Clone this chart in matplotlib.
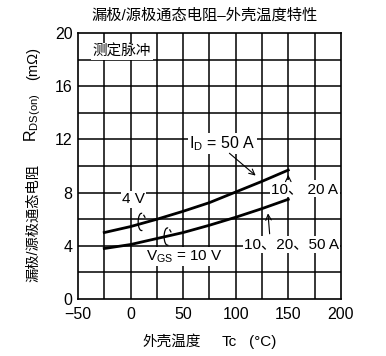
import matplotlib
matplotlib.use('Agg')
import matplotlib.pyplot as plt
from matplotlib.patches import Arc
import numpy as np

plt.rcParams['font.family'] = ['Liberation Sans', 'Noto Sans CJK SC', 'DejaVu Sans']
plt.rcParams['mathtext.fontset'] = 'custom'
plt.rcParams['mathtext.rm'] = 'Liberation Sans'
plt.rcParams['mathtext.it'] = 'Liberation Sans'
plt.rcParams['axes.unicode_minus'] = True

# case temperature (°C)
temp = [-25, 0, 25, 50, 75, 100, 125, 150]
# R_DS(on) (mΩ)
r_4v = [5.0, 5.45, 6.0, 6.6, 7.25, 8.05, 8.85, 9.7]
r_10v = [3.8, 4.1, 4.55, 5.0, 5.55, 6.15, 6.8, 7.5]

x_ticks = [-50, 0, 50, 100, 150, 200]
y_ticks = [0, 4, 8, 12, 16, 20]

fig = plt.figure(figsize=(3.86, 3.56), dpi=100)
ax = fig.add_axes([0.202, 0.160, 0.681, 0.747])

# grid every 25 °C and 2 mΩ
for gx in np.arange(-25, 200, 25):
    ax.axvline(gx, color='black', lw=1.1, zorder=1)
for gy in np.arange(2, 20, 2):
    ax.axhline(gy, color='black', lw=1.1, zorder=1)

ax.plot(temp, r_4v, color='black', lw=2.0, zorder=3)
ax.plot(temp, r_10v, color='black', lw=2.0, zorder=3)

ax.set_xlim(-50, 200)
ax.set_ylim(0, 20)
ax.set_xticks(x_ticks)
ax.set_yticks(y_ticks)
ax.tick_params(length=0, labelsize=11.5)
ax.tick_params(axis='x', pad=6)
ax.tick_params(axis='y', pad=4)
for s in ax.spines.values():
    s.set_linewidth(1.2)

box = dict(facecolor='white', edgecolor='none', pad=1)
ax.text(-36, 18.6, '测定脉冲', fontsize=10.5, va='center', ha='left', bbox=box, zorder=4)
ax.text(56, 11.7, r'I$_\mathrm{D}$ = 50 A', fontsize=11.5, va='center', ha='left', bbox=box, zorder=4)
ax.text(134, 8.3, '10、 20 A', fontsize=11, va='center', ha='left', bbox=box, zorder=4)
ax.text(108, 4.1, '10、20、50 A', fontsize=11, va='center', ha='left', bbox=box, zorder=4)
ax.text(-8, 7.5, '4 V', fontsize=11, va='center', ha='left', bbox=box, zorder=4)
ax.text(15, 3.2, r'V$_\mathrm{GS}$ = 10 V', fontsize=11, va='center', ha='left', bbox=box, zorder=4)

arr = dict(arrowstyle='->', color='black', lw=0.8)
ax.annotate('', xy=(121, 9.15), xytext=(92, 11.1), arrowprops=arr, zorder=5)
ax.annotate('', xy=(150, 9.55), xytext=(150, 8.8), arrowprops=arr, zorder=5)
ax.annotate('', xy=(130.5, 6.65), xytext=(132.5, 4.7), arrowprops=arr, zorder=5)

# small curl marks tying the labels to each curve
for cx, cy in [(10.5, 5.8), (35.2, 4.7)]:
    ax.add_patch(Arc((cx, cy), 6.5, 1.3, theta1=50, theta2=320, color='black', lw=0.9, zorder=5))
    ax.plot([cx + 2.1, cx + 3.2], [cy + 0.5, cy + 0.35], color='black', lw=0.9, zorder=5)

fig.text(0.53, 0.957, '漏极/源极通态电阻–外壳温度特性', fontsize=11, ha='center', va='center')

# y label in three pieces
fig.text(0.085, 1 - 223 / 356, '漏极/源极通态电阻', fontsize=10.3, rotation=90, ha='center', va='center')
fig.text(0.085, 1 - 118 / 356, r'R$_\mathrm{DS(on)}$', fontsize=11.5, rotation=90, ha='center', va='center')
fig.text(0.085, 1 - 63 / 356, '(mΩ)', fontsize=10.5, rotation=90, ha='center', va='center')

# x label in three pieces
fig.text(172 / 386, 1 - 342 / 356, '外壳温度', fontsize=10.5, ha='center', va='center')
fig.text(229 / 386, 1 - 342 / 356, 'Tc', fontsize=11, ha='center', va='center')
fig.text(263 / 386, 1 - 342 / 356, '(°C)', fontsize=11, ha='center', va='center')

fig.savefig('out.png', dpi=100)
